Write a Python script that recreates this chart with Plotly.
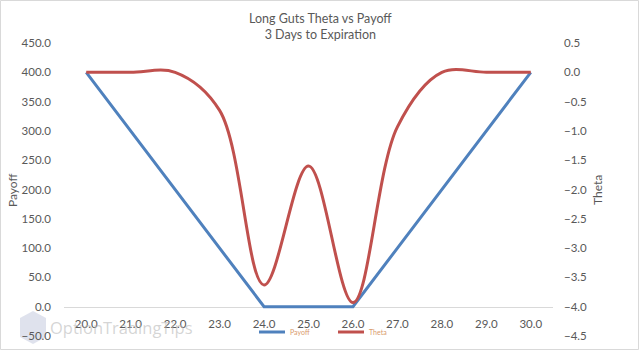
import plotly.graph_objects as go

# ---- data ----
strikes = [20.0, 21.0, 22.0, 23.0, 24.0, 25.0, 26.0, 27.0, 28.0, 29.0, 30.0]
payoff = [400.0, 300.0, 200.0, 100.0, 0.0, 0.0, 0.0, 100.0, 200.0, 300.0, 400.0]
theta = [0.0, 0.0, 0.0, -0.65, -3.63, -1.60, -3.93, -0.93, 0.0, 0.0, 0.0]
title_lines = ["Long Guts Theta vs Payoff", "3 Days to Expiration"]
series_names = ["Payoff", "Theta"]
series_colors = ["#4f81bd", "#c0504d"]

# ---- geometry ----
W, H = 640, 352
ML, MR, MT, MB = 64, 87, 43, 16
PW, PH = W - ML - MR, H - MT - MB
FONT = "Lato"
GREY = "#595959"

def px(x):
    return (x - ML) / PW

def py(y):
    return (H - MB - y) / PH

fig = go.Figure()
fig.add_trace(go.Scatter(x=strikes, y=payoff, name=series_names[0], mode="lines",
                         line=dict(color=series_colors[0], width=3)))
fig.add_trace(go.Scatter(x=strikes, y=theta, name=series_names[1], mode="lines", yaxis="y2",
                         line=dict(color=series_colors[1], width=3, shape="spline", smoothing=1)))

fig.update_layout(
    width=W, height=H,
    margin=dict(l=ML, r=MR, t=MT, b=MB, autoexpand=False),
    paper_bgcolor="white", plot_bgcolor="white",
    font=dict(family=FONT, color=GREY, size=11),
    showlegend=False,
    xaxis=dict(range=[19.5, 30.5], tickvals=strikes, tickformat=".1f", automargin=False,
               showgrid=False, zeroline=False, showline=True, linecolor="#d9d9d9", linewidth=1,
               ticks="", anchor="free", position=0.1, ticklabelstandoff=6, layer="below traces",
               tickfont=dict(size=11.5, color=GREY)),
    yaxis=dict(range=[-50, 450], dtick=50, tickformat=".1f", showgrid=False, zeroline=False,
               showline=False, ticks="", ticklabelstandoff=12, automargin=False,
               tickfont=dict(size=11.5, color=GREY)),
    yaxis2=dict(range=[-4.5, 0.5], dtick=0.5, tickformat=".1f", overlaying="y", side="right",
                showgrid=False, zeroline=False, showline=False, ticks="", ticklabelstandoff=10,
                automargin=False, tickfont=dict(size=11.5, color=GREY)),
)

# title
fig.add_annotation(text="<br>".join(title_lines), xref="paper", yref="paper",
                   x=px(320), y=py(26), xanchor="center", yanchor="middle", showarrow=False,
                   font=dict(size=12.5, color=GREY, family=FONT))
# axis titles
fig.add_annotation(text="Payoff", xref="paper", yref="paper", x=px(12), y=py(190),
                   textangle=-90, showarrow=False, xanchor="center", yanchor="middle",
                   font=dict(size=12, color=GREY, family=FONT))
fig.add_annotation(text="Theta", xref="paper", yref="paper", x=px(597), y=py(190),
                   textangle=-90, showarrow=False, xanchor="center", yanchor="middle",
                   font=dict(size=12, color=GREY, family=FONT))
# watermark
fig.add_annotation(text="OptionTradingTips", xref="paper", yref="paper", x=px(48), y=py(327),
                   xanchor="left", yanchor="middle", showarrow=False,
                   font=dict(size=16.5, color="rgba(185,185,185,0.6)", family="Open Sans"))
fig.add_shape(type="path", xref="paper", yref="paper", layer="below",
              path=f"M {px(20)} {py(318)} L {px(33)} {py(311)} L {px(46)} {py(318)} L {px(46)} {py(337)} L {px(33)} {py(344)} L {px(20)} {py(337)} Z",
              fillcolor="rgba(210,214,230,0.7)", line=dict(width=0))

# manual legend
legend_x = [(259, 285, 288), (338, 364, 367)]
for (x0, x1, xt), name, col in zip(legend_x, series_names, series_colors):
    fig.add_shape(type="line", xref="paper", yref="paper", x0=px(x0), x1=px(x1),
                  y0=py(332), y1=py(332), line=dict(color=col, width=3))
    fig.add_annotation(text=name, xref="paper", yref="paper", x=px(xt), y=py(332),
                       xanchor="left", yanchor="middle", showarrow=False,
                       font=dict(size=7, color="#d99a6c", family=FONT))

# chart border
fig.add_shape(type="rect", xref="paper", yref="paper", layer="below",
              x0=px(0.5), x1=px(638.5), y0=py(349.5), y1=py(0.5),
              line=dict(color="#d9d9d9", width=1), fillcolor="rgba(0,0,0,0)")

fig.write_html("out.html")
